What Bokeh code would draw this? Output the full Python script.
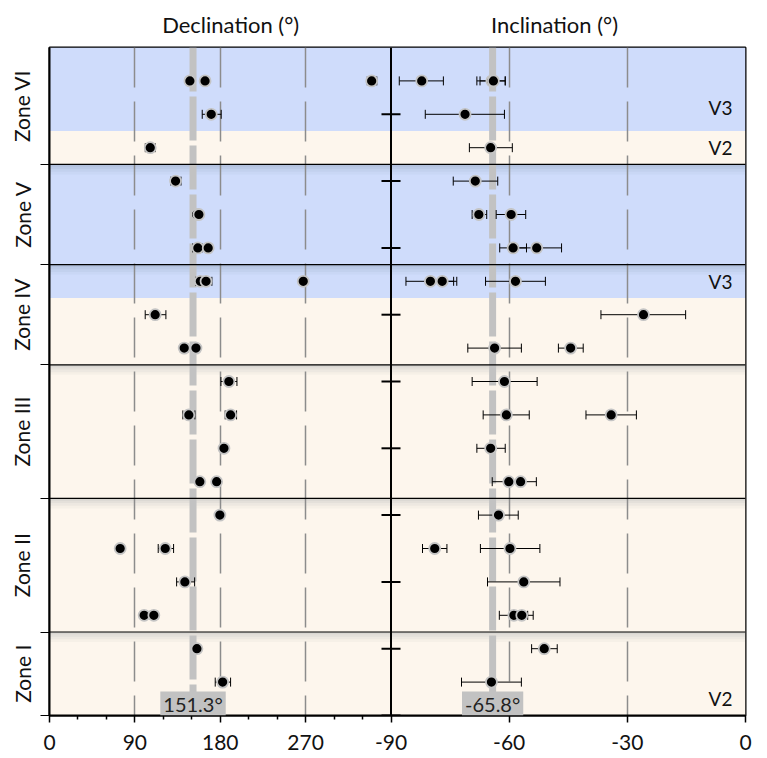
from bokeh.plotting import figure
from bokeh.models import (Range1d, FixedTicker, LinearAxis, Span, Whisker, TeeHead,
                          ColumnDataSource, Label, Grid)
from bokeh.embed import file_html
from bokeh.resources import INLINE
from bokeh.core.properties import value

FONT = "Lato"

# ---------------- data ----------------
zone_names = ["Zone VI", "Zone V", "Zone IV", "Zone III", "Zone II", "Zone I"]
zone_tops = [0, 3.5, 6.5, 9.5, 13.5, 17.5]
zone_bottoms = [3.5, 6.5, 9.5, 13.5, 17.5, 20]

band_tops = [0, 2.5, 3.5, 7.5]
band_bottoms = [2.5, 3.5, 7.5, 20]
band_phase = ["V3", "V2", "V3", "V2"]
phase_colors = {"V3": "#cfdcfb", "V2": "#fdf6ed"}

phase_label_text = ["V3", "V2", "V3", "V2"]
phase_label_row = [1.8, 3, 7, 19.5]

dec_title = "Declination (°)"
inc_title = "Inclination (°)"
dec_title_x = 191
inc_title_x = -48.5

dec_row = [1, 1, 1, 2, 3, 4, 5, 5, 6, 6, 7, 7, 7, 8, 9, 9, 10, 11, 11, 12, 13, 13, 14,
           15, 15, 16, 17, 17, 18, 19]
dec = [148, 164, 339.6, 170.5, 106.2, 132.9, 155.0, 157.5, 156.4, 167.3, 159.0, 165.0,
       267.5, 111.4, 142.0, 154.4, 189.1, 146.9, 190.9, 183.9, 158.5, 176.2, 179.6, 74.5,
       122.0, 142.7, 99.8, 110.0, 155.4, 182.5]
dec_lo = [146.5, 162.5, 335.0, 161.0, 101.0, 128.0, 151.0, 154.5, 151.0, 164.0, 154.0,
          161.0, 266.0, 100.9, 138.0, 152.0, 180.7, 140.6, 185.2, 181.5, 157.0, 174.5,
          177.0, 73.0, 114.6, 134.0, 98.5, 106.0, 154.0, 174.7]
dec_hi = [149.5, 165.5, 345.0, 181.0, 111.3, 138.6, 159.0, 161.0, 161.0, 170.5, 164.0,
          171.2, 269.0, 122.7, 146.0, 157.0, 197.6, 153.3, 197.2, 186.5, 160.0, 178.0,
          182.5, 76.0, 130.8, 153.0, 101.0, 114.0, 157.0, 190.9]

inc_row = dec_row
inc = [-82.2, -64.4, -64.0, -71.2, -64.7, -68.6, -67.7, -59.5, -59.0, -53.0, -80.0, -77.0,
       -58.4, -25.9, -63.7, -44.4, -61.2, -60.7, -34.1, -64.7, -60.1, -57.1, -62.7, -78.9,
       -59.8, -56.3, -58.8, -56.8, -51.1, -64.5]
inc_lo = [-87.9, -68.2, -67.4, -81.3, -70.1, -74.2, -69.4, -63.3, -62.4, -59.3, -86.2,
          -80.0, -66.0, -36.7, -70.5, -47.5, -69.4, -66.6, -40.5, -68.2, -64.3, -60.5,
          -67.8, -82.0, -67.3, -65.5, -62.5, -59.5, -54.3, -72.1]
inc_hi = [-76.7, -61.0, -61.0, -61.2, -59.2, -62.9, -65.7, -55.8, -55.6, -46.7, -74.1,
          -73.3, -50.8, -15.2, -56.9, -41.2, -52.9, -54.9, -27.7, -61.0, -56.5, -53.1,
          -57.7, -75.8, -52.2, -47.1, -55.3, -53.9, -47.8, -56.9]

mean_dec = 151.3
mean_dec_label = "151.3°"
mean_inc_line = -64.2
mean_inc_label = "-65.8°"

dec_ticks = [0, 90, 180, 270]
dec_minor = [30, 60, 120, 150, 210, 240, 300, 330]
dec_grid = [90, 180, 270]
inc_ticks = [-90, -60, -30, 0]
inc_tick_labels = ["-90", "-60", "-30", "0"]
inc_grid = [-60, -30]
row_ticks = [2, 4, 6, 8, 10, 12, 14, 16, 18, 20]

# ---------------- layout ----------------
LEFT, RIGHT, TOP, BOTTOM = 49, 15, 47, 41
FRAME_W, FRAME_H = 696, 668
W = LEFT + FRAME_W + RIGHT
H = TOP + FRAME_H + BOTTOM
Y_MAX = 20
DEC_MAX = 360
INC_MIN = -90
split = 341.5 / FRAME_W                      # share of the frame used by declination
dec_end = DEC_MAX / split                     # declination range stretched over whole frame
inc_start = INC_MIN - (0 - INC_MIN) * split / (1 - split)


def inc_to_dec_axis(v):
    """position of an inclination value on the shared (declination) bottom scale"""
    return (v - inc_start) / (0 - inc_start) * dec_end


zone_centers = [(a + b) / 2 for a, b in zip(zone_tops, zone_bottoms)]
zone_lines = zone_bottoms[:-1]

p = figure(width=W, height=H, x_range=Range1d(0, dec_end), y_range=Range1d(Y_MAX, 0),
           output_backend="svg", toolbar_location=None,
           min_border_left=LEFT, min_border_right=RIGHT,
           min_border_top=TOP, min_border_bottom=BOTTOM)
p.extra_x_ranges = {"inc": Range1d(inc_start, 0)}
p.outline_line_color = "black"
p.outline_line_width = 2
p.background_fill_color = "white"
p.border_fill_color = "white"
p.ygrid.visible = False

# phase bands and shadows
for t, b, ph in zip(band_tops, band_bottoms, band_phase):
    r = p.quad(left=0, right=dec_end, top=t, bottom=b, fill_color=phase_colors[ph],
               line_color=None)
    r.level = "image"
for depth, alpha in [(0.30, 0.04), (0.22, 0.05), (0.14, 0.06), (0.07, 0.07)]:
    r = p.quad(left=[0] * len(zone_lines), right=[dec_end] * len(zone_lines),
               top=zone_lines, bottom=[z + depth for z in zone_lines],
               fill_color="#556070", fill_alpha=alpha, line_color=None)
    r.level = "image"

# grids
grid_style = dict(grid_line_color="#8c8c8c", grid_line_width=1.5, grid_line_dash="40 14")
p.xgrid.ticker = FixedTicker(ticks=dec_grid)
for k, v in grid_style.items():
    setattr(p.xgrid[0], k, v)
p.add_layout(Grid(dimension=0, ticker=FixedTicker(ticks=inc_grid), x_range_name="inc",
                  **grid_style))

# mean lines
p.add_layout(Span(location=mean_dec, dimension="height", line_color="#c2c2c2",
                  line_width=7, line_dash="44 5", level="underlay"))
p.add_layout(Span(location=mean_inc_line, dimension="height", line_color="#c2c2c2",
                  line_width=7, line_dash="44 5", level="underlay", x_range_name="inc"))

# zone separators
for z in zone_lines:
    p.add_layout(Span(location=z, dimension="width", line_color="black",
                      line_width=1.2, level="underlay"))

# panel divider with its ticks
p.add_layout(Span(location=DEC_MAX, dimension="height", line_color="black",
                  line_width=2, level="underlay"))
p.scatter(x=[DEC_MAX] * len(row_ticks), y=row_ticks, marker="dash", size=19,
          line_color="black", line_width=2)


def add_points(x, lo, hi, rows_, rname, mean_x, mean_text):
    src = ColumnDataSource(dict(x=x, lo=lo, hi=hi, y=rows_))
    w = Whisker(base="y", lower="lo", upper="hi", dimension="width", source=src,
                line_color="black", line_width=1,
                upper_head=TeeHead(size=9, line_color="black", line_width=1),
                lower_head=TeeHead(size=9, line_color="black", line_width=1),
                level="underlay", x_range_name=rname)
    p.add_layout(w)
    p.scatter(x="x", y="y", source=src, size=11, fill_color="black",
              line_color="#c4c4c4", line_width=1.8, x_range_name=rname)
    p.add_layout(Label(x=mean_x, y=Y_MAX, text=mean_text, text_align="center",
                       text_baseline="bottom", text_font=FONT, text_font_size="20px",
                       text_color="#222222", background_fill_color="#c2c2c2",
                       padding=dict(left=3, right=3, top=0, bottom=0),
                       x_range_name=rname))


add_points(dec, dec_lo, dec_hi, dec_row, "default", mean_dec, mean_dec_label)
add_points(inc, inc_lo, inc_hi, inc_row, "inc", mean_inc_line, mean_inc_label)

# phase labels
p.text(x=[0] * len(phase_label_text), y=phase_label_row, text=phase_label_text,
       x_offset=-13, text_align="right", text_baseline="middle",
       text_font=value(FONT), text_font_size="19px", text_color="#111111",
       x_range_name="inc")

# bottom axis: declination ticks + inclination ticks on the shared scale
inc_pos = [inc_to_dec_axis(v) for v in inc_ticks]
xa = p.xaxis[0]
xa.ticker = FixedTicker(ticks=dec_ticks + inc_pos, minor_ticks=dec_minor)
xa.major_label_overrides = {pos: lab for pos, lab in zip(inc_pos, inc_tick_labels)}
xa.axis_line_width = 2
xa.major_tick_line_width = 1.5
xa.minor_tick_line_width = 1.5
xa.major_tick_in = 0
xa.major_tick_out = 7
xa.minor_tick_in = 0
xa.minor_tick_out = 4
xa.major_label_text_font = FONT
xa.major_label_text_font_size = "21px"
xa.major_label_text_color = "#111111"
xa.major_label_standoff = 12

# panel titles as an upper axis without ticks
title_pos = [dec_title_x, inc_to_dec_axis(inc_title_x)]
ta = LinearAxis(ticker=FixedTicker(ticks=title_pos, minor_ticks=[]),
                major_label_overrides={title_pos[0]: dec_title, title_pos[1]: inc_title},
                major_tick_in=0, major_tick_out=0, axis_line_color=None,
                major_label_text_font=FONT, major_label_text_font_size="22px",
                major_label_text_color="#111111", major_label_standoff=10)
p.add_layout(ta, "above")

# zone labels on the left axis
ya = p.yaxis[0]
ya.ticker = FixedTicker(ticks=zone_centers, minor_ticks=zone_lines + [Y_MAX])
ya.major_label_overrides = {c: n for c, n in zip(zone_centers, zone_names)}
ya.major_label_orientation = "vertical"
ya.major_tick_in = 0
ya.major_tick_out = 0
ya.minor_tick_in = 0
ya.minor_tick_out = 9
ya.minor_tick_line_width = 1.2
ya.axis_line_width = 2
ya.major_label_text_font = FONT
ya.major_label_text_font_size = "21px"
ya.major_label_text_color = "#111111"
ya.major_label_standoff = 6

open("out.html", "w").write(file_html(p, INLINE))
